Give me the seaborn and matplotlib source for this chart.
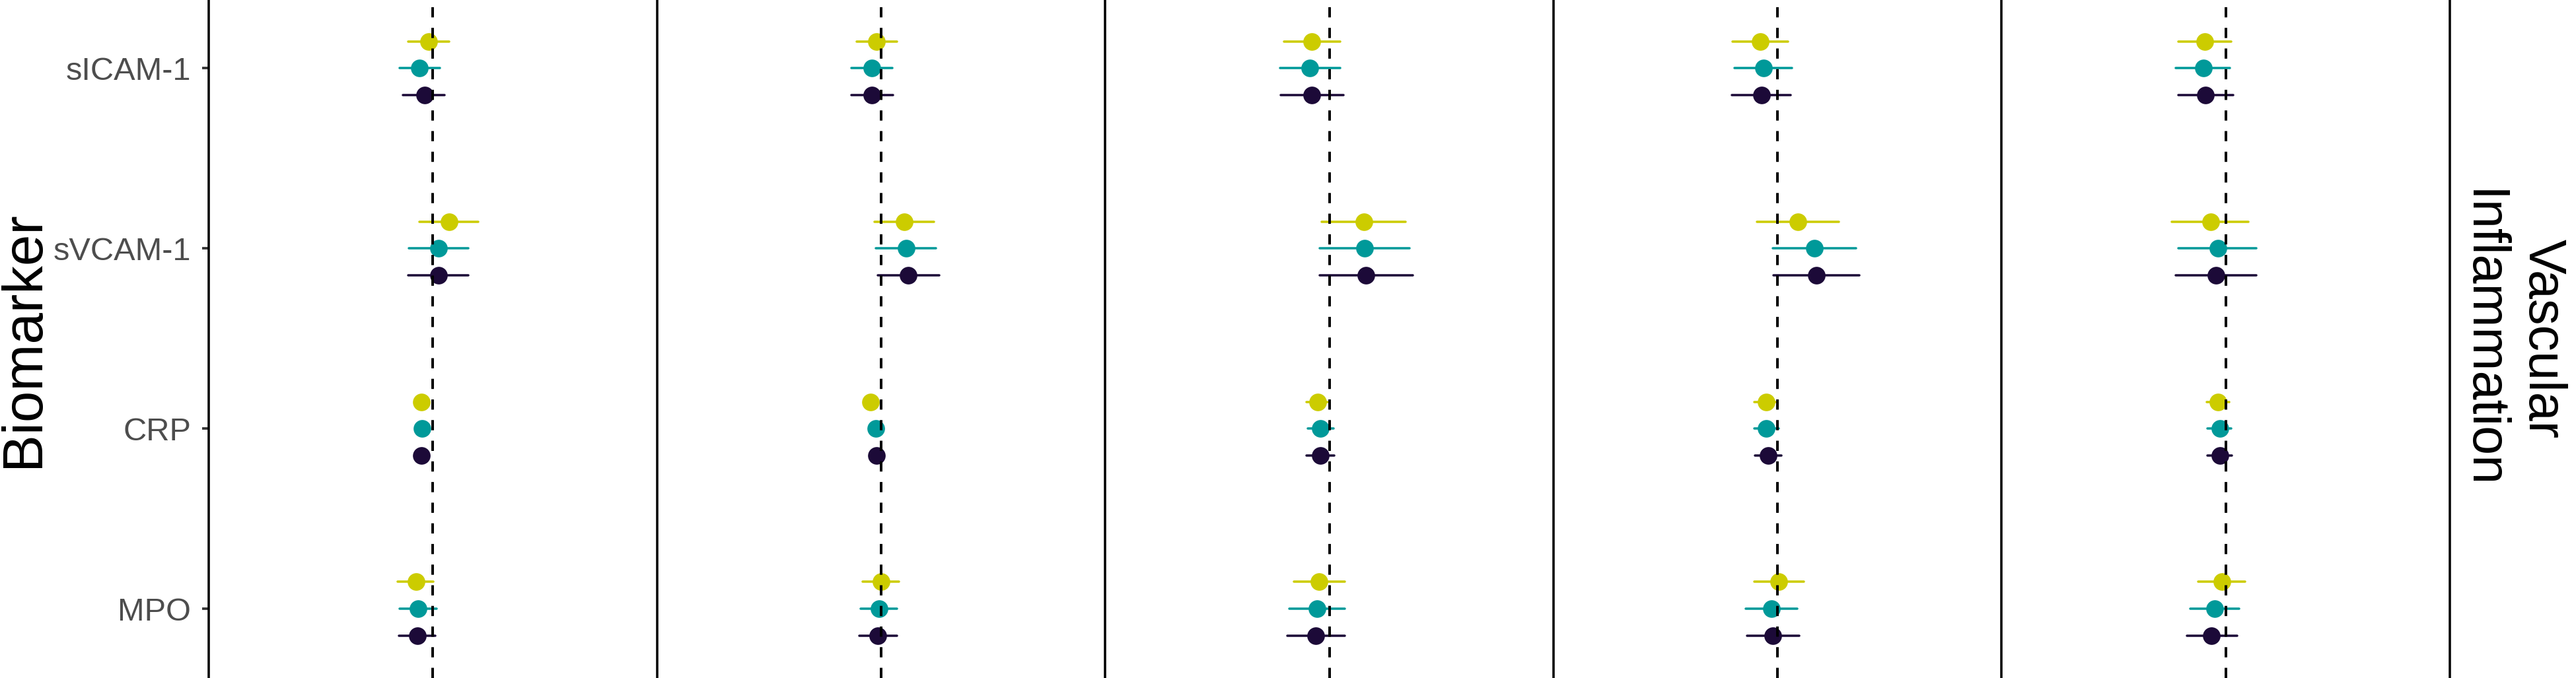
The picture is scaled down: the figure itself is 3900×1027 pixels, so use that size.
import numpy as np
import pandas as pd
import seaborn as sns
import matplotlib.pyplot as plt

# rows of the forest plot, top to bottom
biomarkers = ["sICAM-1", "sVCAM-1", "CRP", "MPO"]
# hue levels, drawn top to bottom inside each row
groups = ["Model 3", "Model 2", "Model 1"]
colors = ["#CCCC00", "#009999", "#1C0A38"]
facet_label = "Vascular\nInflammation"

# estimates and interval ends, per panel
# order: sICAM-1 (3 groups), sVCAM-1, CRP, MPO
est_1 = [-0.020, -0.059, -0.035, 0.074, 0.027, 0.027, -0.051, -0.047, -0.051, -0.076, -0.065, -0.069]
lo_1 = [-0.109, -0.147, -0.133, -0.059, -0.106, -0.109, -0.075, -0.071, -0.075, -0.156, -0.147, -0.150]
hi_1 = [0.073, 0.032, 0.053, 0.202, 0.158, 0.158, -0.027, -0.023, -0.027, 0.003, 0.017, 0.011]

est_2 = [-0.021, -0.041, -0.041, 0.103, 0.112, 0.121, -0.047, -0.024, -0.021, 0.000, -0.009, -0.015]
lo_2 = [-0.108, -0.132, -0.132, -0.029, -0.023, -0.014, -0.071, -0.048, -0.045, -0.082, -0.090, -0.096]
hi_2 = [0.071, 0.050, 0.053, 0.236, 0.245, 0.259, -0.023, 0.000, 0.003, 0.080, 0.071, 0.071]

est_3 = [-0.078, -0.086, -0.078, 0.155, 0.158, 0.164, -0.051, -0.039, -0.039, -0.045, -0.054, -0.060]
lo_3 = [-0.203, -0.221, -0.218, -0.035, -0.044, -0.044, -0.103, -0.097, -0.103, -0.159, -0.177, -0.186]
hi_3 = [0.049, 0.049, 0.064, 0.341, 0.359, 0.373, -0.006, 0.020, 0.023, 0.070, 0.070, 0.070]

est_4 = [-0.077, -0.062, -0.071, 0.091, 0.165, 0.174, -0.050, -0.050, -0.041, 0.006, -0.027, -0.021]
lo_4 = [-0.200, -0.192, -0.203, -0.091, -0.021, -0.018, -0.103, -0.103, -0.100, -0.103, -0.141, -0.136]
hi_4 = [0.046, 0.065, 0.059, 0.274, 0.351, 0.365, -0.008, 0.006, 0.018, 0.118, 0.088, 0.097]

est_5 = [-0.094, -0.100, -0.091, -0.068, -0.035, -0.044, -0.035, -0.027, -0.027, -0.018, -0.050, -0.065]
lo_5 = [-0.212, -0.224, -0.212, -0.242, -0.212, -0.224, -0.085, -0.083, -0.083, -0.124, -0.159, -0.174]
hi_5 = [0.024, 0.018, 0.032, 0.100, 0.136, 0.136, 0.015, 0.024, 0.027, 0.085, 0.059, 0.050]

panels = [(est_1, lo_1, hi_1), (est_2, lo_2, hi_2), (est_3, lo_3, hi_3),
          (est_4, lo_4, hi_4), (est_5, lo_5, hi_5)]

# long table: lo / est / hi per point -> median = estimate, full range = interval
rows = []
for p, (est, lo, hi) in enumerate(panels):
    k = 0
    for b in biomarkers:
        for g in groups:
            for v in (lo[k], est[k], hi[k]):
                rows.append({"panel": p, "biomarker": b, "group": g, "value": v})
            k += 1
df = pd.DataFrame(rows)

sns.set_style("ticks")
plt.rcParams["font.family"] = ["Liberation Sans", "DejaVu Sans"]

fig, axes = plt.subplots(1, 5, figsize=(13, 1027 / 300), dpi=300, sharey=False)
fig.subplots_adjust(left=316 / 3900, right=3709 / 3900, bottom=0, top=1, wspace=0)

for p, ax in enumerate(axes):
    sns.pointplot(
        data=df[df["panel"] == p], x="value", y="biomarker", hue="group",
        order=biomarkers, hue_order=groups, palette=colors,
        estimator="median", errorbar=("pi", 100), dodge=0.3,
        linestyle="none", markers="o", markersize=6.4, markeredgewidth=0,
        err_kws={"linewidth": 0.85}, legend=False, ax=ax,
    )
    # reference line, drawn over the points
    ax.axvline(0, color="black", lw=0.95, ls=(0, (3.9, 4.0)), zorder=5)
    ax.set_xlim(-1, 1)
    ax.set_ylim(3.383, -0.379)
    ax.set_xlabel("")
    ax.set_ylabel("")
    for s in ["top", "bottom", "right"]:
        ax.spines[s].set_visible(False)
    ax.spines["left"].set_color("black")
    ax.spines["left"].set_linewidth(0.85)
    ax.tick_params(axis="x", bottom=False, labelbottom=False)
    if p == 0:
        ax.tick_params(axis="y", length=2.4, width=0.9, color="#333333",
                       labelcolor="#4D4D4D", labelsize=11.7, pad=4)
    else:
        ax.tick_params(axis="y", left=False, labelleft=False)

axes[-1].spines["right"].set_visible(True)
axes[-1].spines["right"].set_color("black")
axes[-1].spines["right"].set_linewidth(0.85)

fig.text(36 / 3900, 0.5, "Biomarker", rotation=90, ha="center", va="center",
         fontsize=20.5, color="black")
fig.text(3803 / 3900, 0.5, facet_label, rotation=270, ha="center", va="center",
         multialignment="center", fontsize=19, color="black", linespacing=1.3)

fig.savefig("out.png", dpi=300)
